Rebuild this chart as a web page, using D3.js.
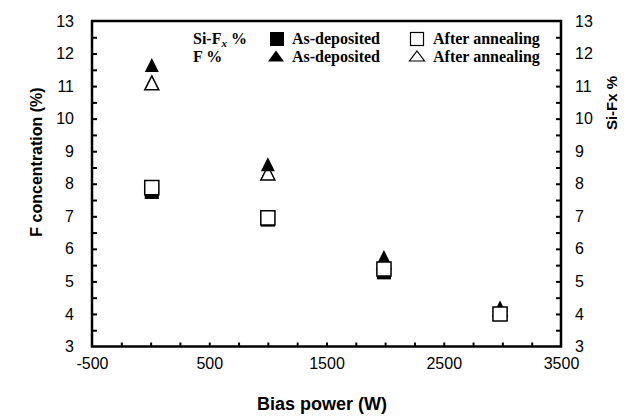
<!DOCTYPE html>
<html>
<head>
<script src="https://d3js.org/d3.v7.min.js"></script>
<style>
body { margin:0; background:#fff; }
.tick text { font-family:"Liberation Sans", Arial, sans-serif; font-size:16px; fill:#000; }
.axlab { font-family:"Liberation Sans", Arial, sans-serif; font-weight:bold; font-size:15px; }
.leg { font-family:"Liberation Serif", "Times New Roman", serif; font-weight:bold; font-size:16px; }
</style>
</head>
<body>
<svg id="chart" width="632" height="416"></svg>
<script>
// bias power (W)
var bias = [10, 1000, 1990, 2980]
// F %
var fAsDep = [11.65, 8.6, 5.75, 4.17]
var fAnneal = [11.1, 8.33, 5.6, 4.15]
// Si-Fx %
var sifAsDep = [7.75, 6.9, 5.28, 4.0]
var sifAnneal = [7.88, 6.95, 5.38, 4.0]

var xTicks = d3.range(-500, 3501, 250)
var xLabels = [-500, 500, 1500, 2500, 3500]
var yTicks = d3.range(3, 13.01, 0.5)
var yLabels = [3,4,5,6,7,8,9,10,11,12,13]

var L = 92, R = 561, T = 21, B = 346.5
var svg = d3.select("#chart")
var x = d3.scaleLinear().domain([-500, 3500]).range([L, R])
var y = d3.scaleLinear().domain([3, 13]).range([B, T])

function fmt(list){ return function(d){ return list.indexOf(Math.round(d*10)/10) >= 0 ? d : "" } }

var gx = svg.append("g").attr("transform","translate(0,"+B+")")
  .call(d3.axisBottom(x).tickValues(xTicks).tickSize(-4).tickPadding(11).tickFormat(fmt(xLabels)))
var gl = svg.append("g").attr("transform","translate("+L+",0)")
  .call(d3.axisLeft(y).tickValues(yTicks).tickSize(-5).tickPadding(18).tickFormat(fmt(yLabels)))
var gr = svg.append("g").attr("transform","translate("+R+",0)")
  .call(d3.axisRight(y).tickValues(yTicks).tickSize(-5).tickPadding(14).tickFormat(fmt(yLabels)))
;[gx, gl, gr].forEach(function(g){
  g.select(".domain").remove()
  g.selectAll(".tick line").attr("stroke","#000").attr("stroke-width",2)
})
gx.selectAll(".tick").filter(function(d){ return d==-500 || d==3500 }).select("line").remove()
gl.selectAll(".tick").filter(function(d){ return d==3 || d==13 }).select("line").remove()
gr.selectAll(".tick").filter(function(d){ return d==3 || d==13 }).select("line").remove()

svg.append("rect").attr("x",L).attr("y",T).attr("width",R-L).attr("height",B-T)
  .attr("fill","none").attr("stroke","#000").attr("stroke-width",2.5)

// axis titles
svg.append("text").attr("class","axlab").attr("x",322).attr("y",410).attr("text-anchor","middle").style("font-size","18px").text("Bias power (W)")
svg.append("text").attr("class","axlab").attr("transform","translate(42,162) rotate(-90)").attr("text-anchor","middle").style("font-size","16px").text("F concentration (%)")
svg.append("text").attr("class","axlab").attr("transform","translate(617,103) rotate(-90)").attr("text-anchor","middle").text("Si-Fx %")

// markers
var sq = d3.symbol().type(d3.symbolSquare).size(200)
function tri(cx, cy, w, h){ return "M"+cx+","+(cy-h/2)+"L"+(cx+w/2)+","+(cy+h/2)+"L"+(cx-w/2)+","+(cy+h/2)+"Z" }

svg.append("g").selectAll("path").data(fAnneal).join("path")
  .attr("d", function(d,i){ return tri(x(bias[i]), y(d), 14, 14) })
  .attr("fill","#fff").attr("stroke","#000").attr("stroke-width",1.5)
svg.append("g").selectAll("path").data(fAsDep).join("path")
  .attr("d", function(d,i){ return tri(x(bias[i]), y(d), 14, 14) })
  .attr("fill","#000")
svg.append("g").selectAll("path").data(sifAsDep).join("path")
  .attr("transform", function(d,i){ return "translate("+x(bias[i])+","+y(d)+")" })
  .attr("d", sq).attr("fill","#000")
svg.append("g").selectAll("path").data(sifAnneal).join("path")
  .attr("transform", function(d,i){ return "translate("+x(bias[i])+","+y(d)+")" })
  .attr("d", sq).attr("fill","#fff").attr("stroke","#000").attr("stroke-width",1.5)

// legend
var leg = svg.append("g")
var t1 = leg.append("text").attr("class","leg").attr("x",193).attr("y",44)
t1.append("tspan").text("Si-F")
t1.append("tspan").attr("font-style","italic").attr("font-size","11px").attr("dy",3).text("x")
t1.append("tspan").attr("dy",-3).text(" %")
leg.append("text").attr("class","leg").attr("x",193).attr("y",62).text("F %")
leg.append("rect").attr("x",270).attr("y",32).attr("width",14).attr("height",14).attr("fill","#000")
leg.append("rect").attr("x",410.5).attr("y",32.5).attr("width",13).attr("height",13).attr("fill","#fff").attr("stroke","#000").attr("stroke-width",1.2)
leg.append("path").attr("d", tri(276, 56, 16, 11)).attr("fill","#000")
leg.append("path").attr("d", tri(417, 56, 15, 10)).attr("fill","#fff").attr("stroke","#000").attr("stroke-width",1.2)
leg.append("text").attr("class","leg").attr("x",292).attr("y",44).text("As-deposited")
leg.append("text").attr("class","leg").attr("x",433).attr("y",44).text("After annealing")
leg.append("text").attr("class","leg").attr("x",292).attr("y",62).text("As-deposited")
leg.append("text").attr("class","leg").attr("x",433).attr("y",62).text("After annealing")
</script>
</body>
</html>
